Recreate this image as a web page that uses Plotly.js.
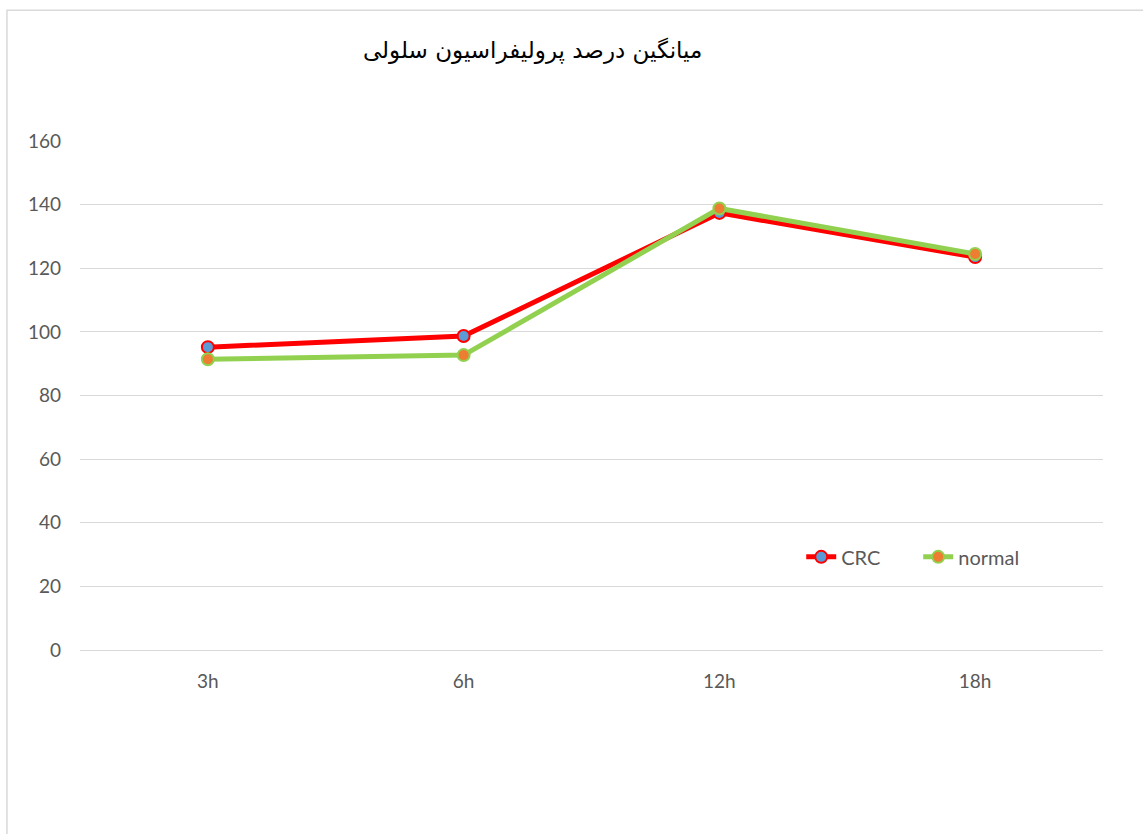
<!DOCTYPE html>
<html>
<head>
<meta charset="utf-8">
<script src="https://cdn.plot.ly/plotly-3.0.1.min.js"></script>
<style>html,body{margin:0;padding:0;background:#fff;}#chart{width:1143px;height:834px;}</style>
</head>
<body>
<div id="chart"></div>
<script>
const categories = ["3h", "6h", "12h", "18h"];
const crcValues = [95.2, 98.7, 137.4, 123.5];
const normalValues = [91.4, 92.7, 138.8, 124.5];
const yTicks = [0, 20, 40, 60, 80, 100, 120, 140, 160];
const titleText = "میانگین درصد پرولیفراسیون سلولی";

const traces = [
  {
    x: categories, y: crcValues, name: "CRC", type: "scatter", mode: "lines+markers",
    line: {color: "#FF0000", width: 5},
    marker: {color: "#5B9BD5", size: 12, line: {color: "#FF0000", width: 2}}
  },
  {
    x: categories, y: normalValues, name: "normal", type: "scatter", mode: "lines+markers",
    line: {color: "#92D050", width: 5},
    marker: {color: "#ED7D31", size: 12, line: {color: "#92D050", width: 2}}
  }
];

const layout = {
  width: 1143, height: 834,
  margin: {l: 80, r: 40, t: 141, b: 184},
  paper_bgcolor: "#fff", plot_bgcolor: "#fff",
  font: {family: "Lato, 'Open Sans', sans-serif", color: "#595959", size: 19},
  title: {text: titleText, x: 0.466, xanchor: "center", y: 0.94, yanchor: "middle",
          font: {family: "'DejaVu Sans', sans-serif", size: 23, color: "#000"}},
  xaxis: {type: "category", range: [-0.5, 3.5], showgrid: false, zeroline: false,
          showline: true, linecolor: "#d9d9d9", linewidth: 1, ticks: "", ticklen: 0,
          ticklabelstandoff: 14, tickfont: {size: 19, color: "#595959"}},
  yaxis: {range: [0, 160], tickvals: yTicks, showgrid: true, gridcolor: "#d9d9d9", gridwidth: 1,
          zeroline: false, showline: false, ticks: "", ticklabelstandoff: 18,
          tickfont: {size: 19, color: "#595959"}},
  showlegend: true,
  legend: {orientation: "h", x: 0.705, xanchor: "left", y: 0.183, yanchor: "middle",
           font: {size: 20, color: "#595959"}, bgcolor: "rgba(0,0,0,0)",
           entrywidth: 72, entrywidthmode: "pixels"},
  shapes: [
    {type: "rect", xref: "paper", yref: "paper", x0: -0.0714, x1: 1.2, y0: -0.5, y1: 1.257,
     line: {color: "#d9d9d9", width: 1.5}, fillcolor: "rgba(0,0,0,0)", layer: "below"}
  ]
};

Plotly.newPlot("chart", traces, layout, {displayModeBar: false, staticPlot: true});
</script>
</body>
</html>
